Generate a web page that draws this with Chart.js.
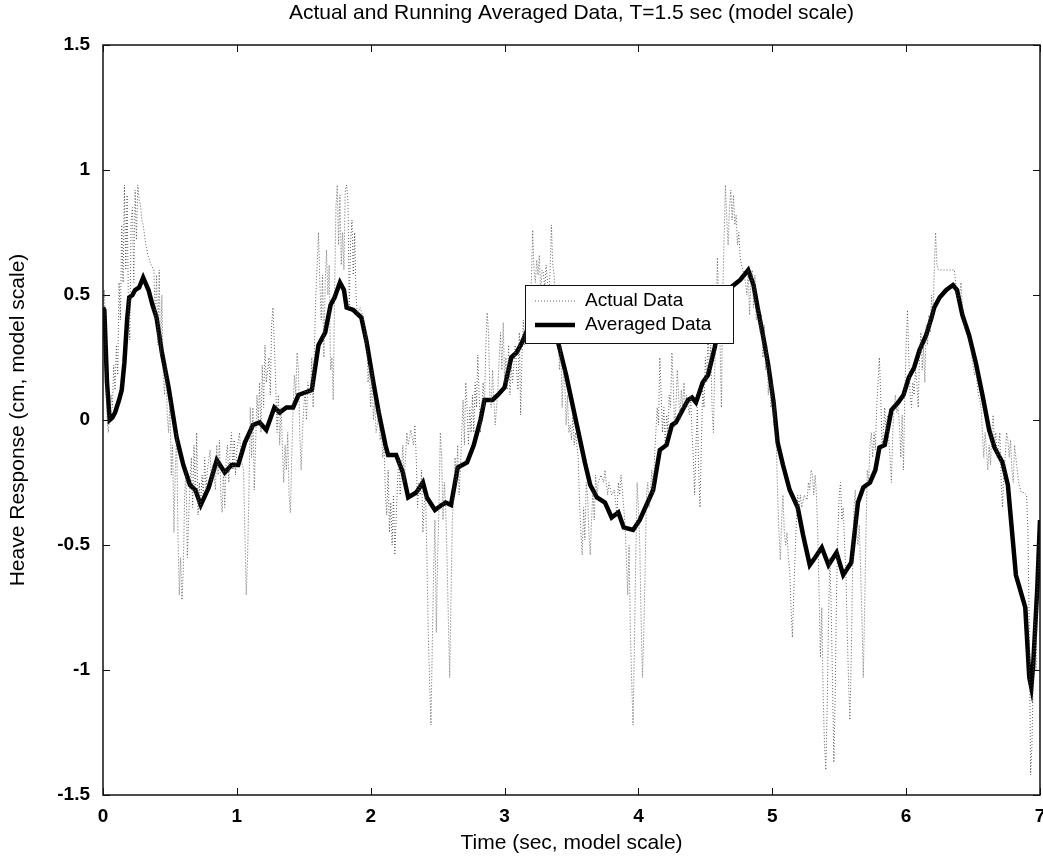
<!DOCTYPE html>
<html lang="en">
<head>
  <meta charset="UTF-8" />
  <title>Heave Response</title>
  <script src="https://cdn.jsdelivr.net/npm/chart.js"></script>
  <style>
    body { margin: 0; background: #fff; }
    canvas { display: block; }
  </style>
</head>
<body>
  <canvas id="heaveChart" width="1043" height="858"></canvas>

  <script>
    const chartTitle = "Actual and Running Averaged Data, T=1.5 sec (model scale)";
    const xTitle = "Time (sec, model scale)";
    const yTitle = "Heave Response (cm, model scale)";
    const seriesNames = ["Actual Data", "Averaged Data"];

    // measured heave, sec / cm
    const actualTime = [
      0.00,0.01,0.02,0.03,0.04,0.05,0.06,0.07,0.08,0.09,0.10,0.11,0.12,0.13,0.14,0.15,0.16,0.17,0.18,0.19,
      0.20,0.21,0.22,0.23,0.24,0.25,0.26,0.27,0.28,0.29,0.30,0.32,0.34,0.36,0.38,0.39,0.40,0.41,0.42,0.43,
      0.44,0.45,0.46,0.47,0.48,0.49,0.50,0.51,0.52,0.53,0.54,0.55,0.56,0.57,0.58,0.59,0.60,0.61,0.62,0.63,
      0.64,0.65,0.66,0.67,0.68,0.69,0.70,0.71,0.72,0.73,0.74,0.75,0.76,0.77,0.78,0.80,0.81,0.82,0.84,0.85,
      0.86,0.87,0.88,0.89,0.90,0.91,0.92,0.93,0.94,0.95,0.96,0.97,0.98,0.99,1.00,1.02,1.03,1.05,1.06,1.07,
      1.08,1.09,1.10,1.11,1.12,1.13,1.14,1.15,1.16,1.17,1.18,1.19,1.20,1.21,1.22,1.24,1.25,1.26,1.27,1.28,
      1.29,1.30,1.31,1.32,1.33,1.35,1.36,1.37,1.38,1.39,1.40,1.41,1.42,1.43,1.44,1.45,1.46,1.47,1.48,1.49,
      1.50,1.51,1.52,1.53,1.55,1.56,1.57,1.58,1.59,1.60,1.61,1.62,1.63,1.64,1.65,1.66,1.67,1.68,1.69,1.70,
      1.71,1.72,1.73,1.74,1.75,1.76,1.77,1.78,1.79,1.80,1.81,1.82,1.83,1.84,1.85,1.86,1.87,1.88,1.89,1.90,
      1.92,1.94,1.95,1.96,1.97,1.98,1.99,2.00,2.01,2.02,2.03,2.04,2.05,2.06,2.07,2.08,2.09,2.10,2.11,2.12,
      2.13,2.14,2.15,2.16,2.17,2.18,2.19,2.20,2.21,2.22,2.23,2.24,2.25,2.26,2.27,2.28,2.30,2.32,2.33,2.34,
      2.35,2.36,2.37,2.38,2.39,2.40,2.41,2.42,2.43,2.44,2.45,2.46,2.47,2.48,2.49,2.50,2.51,2.52,2.53,2.54,
      2.55,2.56,2.57,2.58,2.59,2.60,2.61,2.62,2.63,2.64,2.65,2.66,2.67,2.68,2.69,2.70,2.71,2.72,2.73,2.74,
      2.75,2.76,2.77,2.78,2.79,2.80,2.81,2.82,2.83,2.84,2.85,2.86,2.87,2.88,2.89,2.90,2.91,2.92,2.93,2.94,
      2.95,2.96,2.97,2.98,2.99,3.00,3.01,3.02,3.03,3.04,3.05,3.06,3.08,3.09,3.10,3.11,3.12,3.13,3.14,3.15,
      3.16,3.17,3.18,3.19,3.20,3.21,3.22,3.23,3.24,3.25,3.26,3.27,3.28,3.29,3.30,3.31,3.32,3.33,3.34,3.35,
      3.36,3.37,3.38,3.39,3.40,3.41,3.42,3.43,3.44,3.45,3.46,3.47,3.48,3.49,3.50,3.51,3.52,3.53,3.54,3.55,
      3.56,3.57,3.58,3.59,3.60,3.61,3.62,3.63,3.64,3.65,3.66,3.67,3.68,3.69,3.70,3.72,3.74,3.75,3.76,3.77,
      3.78,3.80,3.82,3.84,3.85,3.86,3.87,3.88,3.89,3.90,3.91,3.92,3.93,3.94,3.95,3.96,3.97,3.98,3.99,4.00,
      4.01,4.02,4.03,4.04,4.05,4.06,4.07,4.08,4.09,4.10,4.11,4.12,4.13,4.14,4.15,4.16,4.17,4.18,4.19,4.20,
      4.21,4.22,4.23,4.24,4.25,4.26,4.27,4.28,4.29,4.30,4.31,4.32,4.33,4.34,4.35,4.36,4.38,4.39,4.40,4.41,
      4.42,4.43,4.44,4.45,4.46,4.47,4.48,4.49,4.50,4.51,4.52,4.53,4.54,4.55,4.56,4.57,4.58,4.59,4.60,4.61,
      4.62,4.63,4.64,4.65,4.66,4.67,4.68,4.69,4.70,4.71,4.72,4.73,4.74,4.75,4.76,4.77,4.78,4.80,4.81,4.82,
      4.83,4.84,4.85,4.86,4.87,4.88,4.90,4.91,4.92,4.93,4.94,4.95,4.96,4.97,4.98,4.99,5.00,5.01,5.02,5.03,
      5.04,5.05,5.06,5.07,5.08,5.09,5.10,5.11,5.12,5.13,5.14,5.15,5.16,5.17,5.18,5.19,5.20,5.21,5.22,5.24,
      5.26,5.27,5.28,5.29,5.30,5.31,5.32,5.33,5.34,5.35,5.36,5.37,5.38,5.39,5.40,5.41,5.42,5.43,5.44,5.45,
      5.46,5.47,5.48,5.49,5.50,5.51,5.52,5.53,5.54,5.55,5.56,5.57,5.58,5.59,5.60,5.61,5.62,5.63,5.64,5.65,
      5.66,5.67,5.68,5.69,5.70,5.71,5.72,5.73,5.74,5.75,5.76,5.77,5.78,5.79,5.80,5.81,5.82,5.83,5.84,5.85,
      5.86,5.87,5.88,5.89,5.90,5.91,5.92,5.93,5.94,5.95,5.96,5.97,5.98,5.99,6.00,6.01,6.02,6.03,6.04,6.05,
      6.06,6.07,6.08,6.09,6.10,6.11,6.12,6.13,6.14,6.15,6.16,6.17,6.18,6.19,6.20,6.21,6.22,6.23,6.24,6.26,
      6.28,6.30,6.32,6.34,6.36,6.37,6.38,6.39,6.40,6.41,6.42,6.43,6.44,6.46,6.48,6.49,6.50,6.51,6.52,6.53,
      6.54,6.55,6.56,6.57,6.58,6.59,6.60,6.61,6.62,6.63,6.64,6.65,6.66,6.67,6.68,6.69,6.70,6.71,6.72,6.73,
      6.74,6.75,6.76,6.77,6.78,6.79,6.80,6.81,6.82,6.84,6.86,6.88,6.90,6.91,6.92,6.93,6.94,6.95,6.96,6.97,
      6.98,6.99,7.00
    ];
    const actualHeave = [
      0.45,0.52,0.30,0.00,-0.05,0.02,0.10,0.05,0.22,0.12,0.30,0.18,0.55,0.40,0.78,0.55,0.94,0.60,0.90,0.45,
      0.32,0.80,0.85,0.55,0.92,0.72,0.94,0.88,0.86,0.80,0.78,0.70,0.65,0.62,0.60,0.40,0.58,0.30,0.60,0.26,
      0.50,0.18,0.10,0.22,0.02,-0.05,0.08,-0.22,-0.10,-0.45,-0.20,-0.05,-0.45,-0.70,-0.55,-0.72,-0.60,-0.30,-0.20,-0.55,
      -0.40,-0.25,-0.15,-0.35,-0.10,-0.30,-0.05,-0.38,-0.25,-0.35,-0.22,-0.30,-0.15,-0.28,-0.20,-0.12,-0.25,-0.18,-0.28,-0.10,
      -0.22,-0.08,-0.30,-0.37,-0.20,-0.35,-0.15,-0.10,-0.25,-0.12,-0.05,-0.20,-0.08,-0.22,-0.12,-0.05,-0.15,-0.20,-0.45,-0.70,
      -0.55,-0.30,0.05,-0.15,0.05,-0.28,-0.10,0.10,0.00,0.15,-0.05,0.22,0.05,0.30,0.15,0.25,0.10,0.38,0.45,0.30,
      0.15,-0.05,0.10,-0.10,0.05,-0.25,-0.10,-0.20,-0.05,-0.30,-0.37,-0.15,0.05,0.18,0.10,0.27,0.20,-0.05,-0.20,-0.05,
      0.05,0.12,0.00,0.15,0.10,0.25,0.05,0.30,0.50,0.62,0.75,0.55,0.40,0.58,0.25,0.55,0.68,0.50,0.62,0.20,
      0.25,0.08,0.50,0.85,0.94,0.70,0.90,0.62,0.75,0.60,0.92,0.94,0.88,0.45,0.72,0.80,0.58,0.75,0.50,0.42,
      0.45,0.42,0.38,0.30,0.35,0.15,0.22,0.05,0.20,0.00,0.08,-0.05,-0.02,0.05,-0.08,-0.05,-0.15,-0.10,-0.30,-0.38,
      -0.20,-0.45,-0.33,-0.50,-0.30,-0.54,-0.40,-0.25,-0.15,-0.30,-0.20,-0.10,-0.25,-0.15,-0.05,-0.10,-0.04,-0.10,-0.02,-0.15,
      -0.35,-0.25,-0.30,-0.20,-0.45,-0.33,-0.30,-0.55,-0.85,-1.05,-1.22,-0.90,-0.60,-0.40,-0.85,-0.55,-0.35,-0.05,-0.15,-0.40,
      -0.25,-0.35,-0.55,-0.80,-1.03,-0.70,-0.40,-0.30,-0.15,-0.25,-0.10,-0.30,-0.20,-0.05,0.08,-0.10,0.15,0.05,-0.10,0.05,
      -0.05,0.10,-0.05,0.15,0.05,0.26,0.10,-0.05,0.05,0.15,0.05,0.30,0.43,0.35,0.10,0.05,0.20,0.08,-0.02,0.05,
      0.12,0.25,0.35,0.20,0.39,0.15,0.25,0.12,0.30,0.10,0.22,0.15,0.30,0.20,0.12,0.35,0.02,0.25,0.40,0.30,
      0.45,0.35,0.50,0.42,0.55,0.76,0.60,0.55,0.64,0.58,0.66,0.50,0.60,0.59,0.52,0.62,0.56,0.48,0.60,0.78,
      0.62,0.58,0.45,0.30,0.35,0.20,0.30,0.05,0.20,0.15,-0.02,0.10,-0.05,-0.02,-0.08,0.02,-0.10,-0.05,-0.10,-0.15,
      -0.33,-0.45,-0.54,-0.35,-0.48,-0.25,-0.30,-0.45,-0.54,-0.40,-0.28,-0.40,-0.22,-0.30,-0.25,-0.22,-0.25,-0.20,-0.25,-0.30,
      -0.25,-0.30,-0.28,-0.38,-0.25,-0.30,-0.22,-0.28,-0.35,-0.42,-0.55,-0.70,-0.50,-0.85,-1.05,-1.22,-0.90,-0.55,-0.25,-0.35,
      -0.50,-0.80,-1.03,-0.85,-0.60,-0.30,-0.25,-0.35,-0.28,-0.20,-0.30,-0.15,-0.05,0.05,-0.02,0.25,0.10,-0.05,0.05,-0.10,
      0.02,-0.05,0.10,0.05,0.27,0.15,-0.03,0.05,0.20,0.10,0.00,0.12,0.05,0.15,0.05,0.10,0.02,0.10,-0.05,-0.15,
      -0.30,-0.10,0.05,-0.20,-0.35,-0.10,0.12,0.05,0.25,0.15,0.35,0.20,0.30,0.05,-0.05,0.20,0.40,0.65,0.45,0.30,
      0.05,0.50,0.73,0.94,0.80,0.70,0.85,0.92,0.80,0.90,0.78,0.82,0.70,0.75,0.65,0.62,0.60,0.55,0.50,0.60,
      0.42,0.55,0.60,0.45,0.58,0.40,0.45,0.35,0.42,0.25,0.38,0.20,0.30,0.10,0.22,0.05,0.15,-0.02,0.08,-0.10,
      -0.30,-0.45,-0.56,-0.40,-0.30,-0.45,-0.50,-0.45,-0.55,-0.60,-0.75,-0.87,-0.70,-0.55,-0.40,-0.30,-0.35,-0.30,-0.35,-0.30,
      -0.32,-0.25,-0.28,-0.20,-0.22,-0.30,-0.22,-0.30,-0.45,-0.70,-0.95,-0.75,-1.10,-1.30,-1.40,-1.15,-0.80,-0.55,-0.75,-1.05,
      -1.37,-1.10,-0.70,-0.45,-0.30,-0.25,-0.40,-0.35,-0.50,-0.60,-0.85,-1.05,-1.20,-0.95,-0.60,-0.35,-0.28,-0.45,-0.50,-0.42,
      -0.60,-0.80,-1.03,-0.75,-0.45,-0.20,-0.25,-0.10,-0.05,-0.15,-0.05,-0.12,0.05,0.15,0.25,0.10,-0.10,-0.05,0.05,-0.05,
      0.02,-0.08,-0.15,-0.25,-0.05,0.05,0.10,0.03,0.05,-0.02,-0.15,0.02,-0.20,0.10,0.30,0.44,0.25,0.10,0.05,0.15,
      0.10,0.20,0.15,0.05,0.25,0.35,0.20,0.30,0.15,0.38,0.30,0.42,0.35,0.50,0.40,0.60,0.75,0.62,0.60,0.60,
      0.60,0.60,0.60,0.60,0.60,0.55,0.50,0.48,0.50,0.55,0.45,0.40,0.36,0.33,0.30,0.25,0.22,0.18,0.20,0.15,
      0.10,0.08,0.05,-0.05,-0.15,-0.05,-0.12,-0.20,-0.10,-0.18,-0.05,0.02,-0.10,-0.05,-0.15,-0.10,-0.05,-0.25,-0.35,-0.20,
      -0.15,-0.05,-0.08,-0.15,-0.08,-0.20,-0.25,-0.10,-0.15,-0.25,-0.29,-0.29,-0.30,-0.45,-0.85,-1.42,-1.30,-1.00,-0.80,-1.00,
      -0.70,-0.55,-0.40
    ];

    // running average of the same record
    const averagedTime = [
      0.00,0.01,0.03,0.05,0.07,0.09,0.12,0.14,0.16,0.18,0.196,0.22,0.24,0.27,0.30,0.34,0.37,0.40,0.44,0.49,
      0.55,0.60,0.65,0.69,0.73,0.79,0.85,0.91,0.96,1.01,1.06,1.12,1.17,1.22,1.28,1.32,1.37,1.42,1.46,1.51,
      1.56,1.61,1.66,1.70,1.73,1.77,1.80,1.82,1.87,1.93,1.97,2.02,2.06,2.11,2.13,2.19,2.24,2.28,2.34,2.39,
      2.42,2.48,2.53,2.56,2.60,2.65,2.72,2.77,2.82,2.85,2.91,2.95,3.00,3.05,3.09,3.13,3.17,3.22,3.28,3.34,
      3.40,3.46,3.54,3.60,3.64,3.69,3.75,3.80,3.85,3.89,3.96,4.01,4.06,4.11,4.16,4.21,4.25,4.28,4.33,4.37,
      4.40,4.43,4.48,4.52,4.57,4.63,4.69,4.76,4.82,4.86,4.89,4.93,4.97,5.01,5.04,5.08,5.13,5.19,5.23,5.28,
      5.32,5.37,5.42,5.48,5.53,5.59,5.64,5.68,5.73,5.77,5.80,5.84,5.89,5.94,5.98,6.02,6.06,6.10,6.15,6.19,
      6.21,6.25,6.30,6.35,6.38,6.42,6.47,6.52,6.57,6.62,6.66,6.72,6.76,6.78,6.82,6.89,6.92,6.935,6.95,6.98,
      7.00
    ];
    const averagedHeave = [
      0.45,0.44,0.15,0.00,0.01,0.03,0.08,0.12,0.23,0.40,0.49,0.50,0.52,0.53,0.57,0.52,0.46,0.41,0.27,0.13,
      -0.07,-0.18,-0.26,-0.28,-0.34,-0.27,-0.16,-0.21,-0.18,-0.18,-0.09,-0.02,-0.01,-0.04,0.05,0.03,0.05,0.05,0.10,0.11,
      0.12,0.30,0.35,0.46,0.49,0.55,0.52,0.45,0.44,0.41,0.31,0.15,0.03,-0.10,-0.14,-0.14,-0.21,-0.31,-0.29,-0.25,
      -0.31,-0.36,-0.34,-0.33,-0.34,-0.19,-0.17,-0.10,0.00,0.08,0.08,0.10,0.13,0.25,0.27,0.31,0.36,0.42,0.46,0.42,
      0.31,0.18,-0.02,-0.17,-0.26,-0.31,-0.33,-0.39,-0.37,-0.43,-0.44,-0.40,-0.34,-0.28,-0.12,-0.10,-0.02,-0.01,0.04,0.08,
      0.09,0.07,0.15,0.18,0.29,0.45,0.53,0.56,0.60,0.54,0.45,0.34,0.22,0.07,-0.09,-0.18,-0.28,-0.35,-0.46,-0.58,
      -0.55,-0.51,-0.58,-0.53,-0.62,-0.57,-0.33,-0.27,-0.25,-0.20,-0.11,-0.10,0.04,0.07,0.10,0.17,0.21,0.28,0.34,0.41,
      0.45,0.49,0.52,0.54,0.52,0.42,0.34,0.23,0.10,-0.04,-0.11,-0.17,-0.26,-0.38,-0.62,-0.75,-1.03,-1.07,-0.97,-0.67,
      -0.40
    ];

    const xTicks = [0, 1, 2, 3, 4, 5, 6, 7];
    const yTicks = [-1.5, -1, -0.5, 0, 0.5, 1, 1.5];

    const FONT = "'Liberation Sans', Arial, sans-serif";

    const toPoints = (ts, vs) => ts.map((t, i) => ({ x: t, y: vs[i] }));

    // MATLAB-style box: frame on all four sides, short ticks pointing inward
    const axesBox = {
      id: "axesBox",
      afterDraw(chart) {
        const { ctx, chartArea: a, scales } = chart;
        ctx.save();
        ctx.strokeStyle = "#111";
        ctx.lineWidth = 1.5;
        ctx.strokeRect(a.left, a.top, a.right - a.left, a.bottom - a.top);
        ctx.lineWidth = 1;
        const len = 7;
        xTicks.forEach(v => {
          const px = Math.round(scales.x.getPixelForValue(v)) + 0.5;
          ctx.beginPath();
          ctx.moveTo(px, a.bottom); ctx.lineTo(px, a.bottom - len);
          ctx.moveTo(px, a.top); ctx.lineTo(px, a.top + len);
          ctx.stroke();
        });
        yTicks.forEach(v => {
          const py = Math.round(scales.y.getPixelForValue(v)) + 0.5;
          ctx.beginPath();
          ctx.moveTo(a.left, py); ctx.lineTo(a.left + len, py);
          ctx.moveTo(a.right, py); ctx.lineTo(a.right - len, py);
          ctx.stroke();
        });
        // title centred over the axes
        ctx.fillStyle = "#000";
        ctx.font = "21px " + FONT;
        ctx.textAlign = "center";
        ctx.textBaseline = "middle";
        ctx.fillText(chartTitle, (a.left + a.right) / 2, 13);
        ctx.restore();
      }
    };

    // legend box sits over the traces with an opaque white face
    const legendBox = {
      id: "legendBox",
      afterDatasetsDraw(chart) {
        const { ctx, chartArea: a } = chart;
        const bx = a.left + 422, by = a.top + 240, bw = 208, bh = 58;
        ctx.save();
        ctx.fillStyle = "#fff";
        ctx.fillRect(bx, by, bw, bh);
        ctx.strokeStyle = "#111";
        ctx.lineWidth = 1;
        ctx.strokeRect(bx + 0.5, by + 0.5, bw, bh);
        chart.data.datasets.forEach((ds, i) => {
          const y = by + 16 + i * 24;
          ctx.beginPath();
          ctx.strokeStyle = ds.borderColor;
          ctx.lineWidth = ds.borderWidth;
          ctx.setLineDash(ds.borderDash || []);
          ctx.moveTo(bx + 10, y); ctx.lineTo(bx + 50, y);
          ctx.stroke();
          ctx.setLineDash([]);
          ctx.fillStyle = "#000";
          ctx.font = "19px " + FONT;
          ctx.textBaseline = "middle";
          ctx.fillText(ds.label, bx + 60, y);
        });
        ctx.restore();
      }
    };

    new Chart(document.getElementById("heaveChart"), {
      type: "line",
      data: {
        datasets: [
          {
            label: seriesNames[0],
            data: toPoints(actualTime, actualHeave),
            borderColor: "rgba(70,70,70,0.85)",
            borderWidth: 1,
            borderDash: [1, 2],
            pointRadius: 0,
            tension: 0
          },
          {
            label: seriesNames[1],
            data: toPoints(averagedTime, averagedHeave),
            borderColor: "#000",
            borderWidth: 4.5,
            pointRadius: 0,
            tension: 0
          }
        ]
      },
      options: {
        responsive: false,
        animation: false,
        devicePixelRatio: 1,
        layout: { autoPadding: false, padding: { top: 45, right: 3, left: 0, bottom: 0 } },
        plugins: {
          legend: { display: false },
          title: { display: false },
          tooltip: { enabled: false }
        },
        scales: {
          x: {
            type: "linear",
            min: 0, max: 7,
            afterFit(scale) { scale.height = 63; scale.paddingLeft = 0; scale.paddingRight = 0; },
            afterBuildTicks(scale) { scale.ticks = xTicks.map(v => ({ value: v })); },
            grid: { display: false, drawTicks: false },
            border: { display: false },
            ticks: {
              color: "#000",
              padding: 10,
              font: { family: FONT, size: 19, weight: "bold" },
              callback: v => String(v)
            },
            title: {
              display: true, text: xTitle, color: "#000",
              font: { family: FONT, size: 21 },
              padding: { top: 0, bottom: 2 }
            }
          },
          y: {
            type: "linear",
            min: -1.5, max: 1.5,
            afterFit(scale) { scale.width = 103; scale.paddingTop = 0; scale.paddingBottom = 0; },
            afterBuildTicks(scale) { scale.ticks = yTicks.map(v => ({ value: v })); },
            grid: { display: false, drawTicks: false },
            border: { display: false },
            ticks: {
              color: "#000",
              padding: 13,
              font: { family: FONT, size: 19, weight: "bold" },
              callback: v => String(v)
            },
            title: {
              display: true, text: yTitle, color: "#000",
              font: { family: FONT, size: 21 },
              padding: { top: 6, bottom: 0 }
            }
          }
        }
      },
      plugins: [legendBox, axesBox]
    });
  </script>
</body>
</html>
